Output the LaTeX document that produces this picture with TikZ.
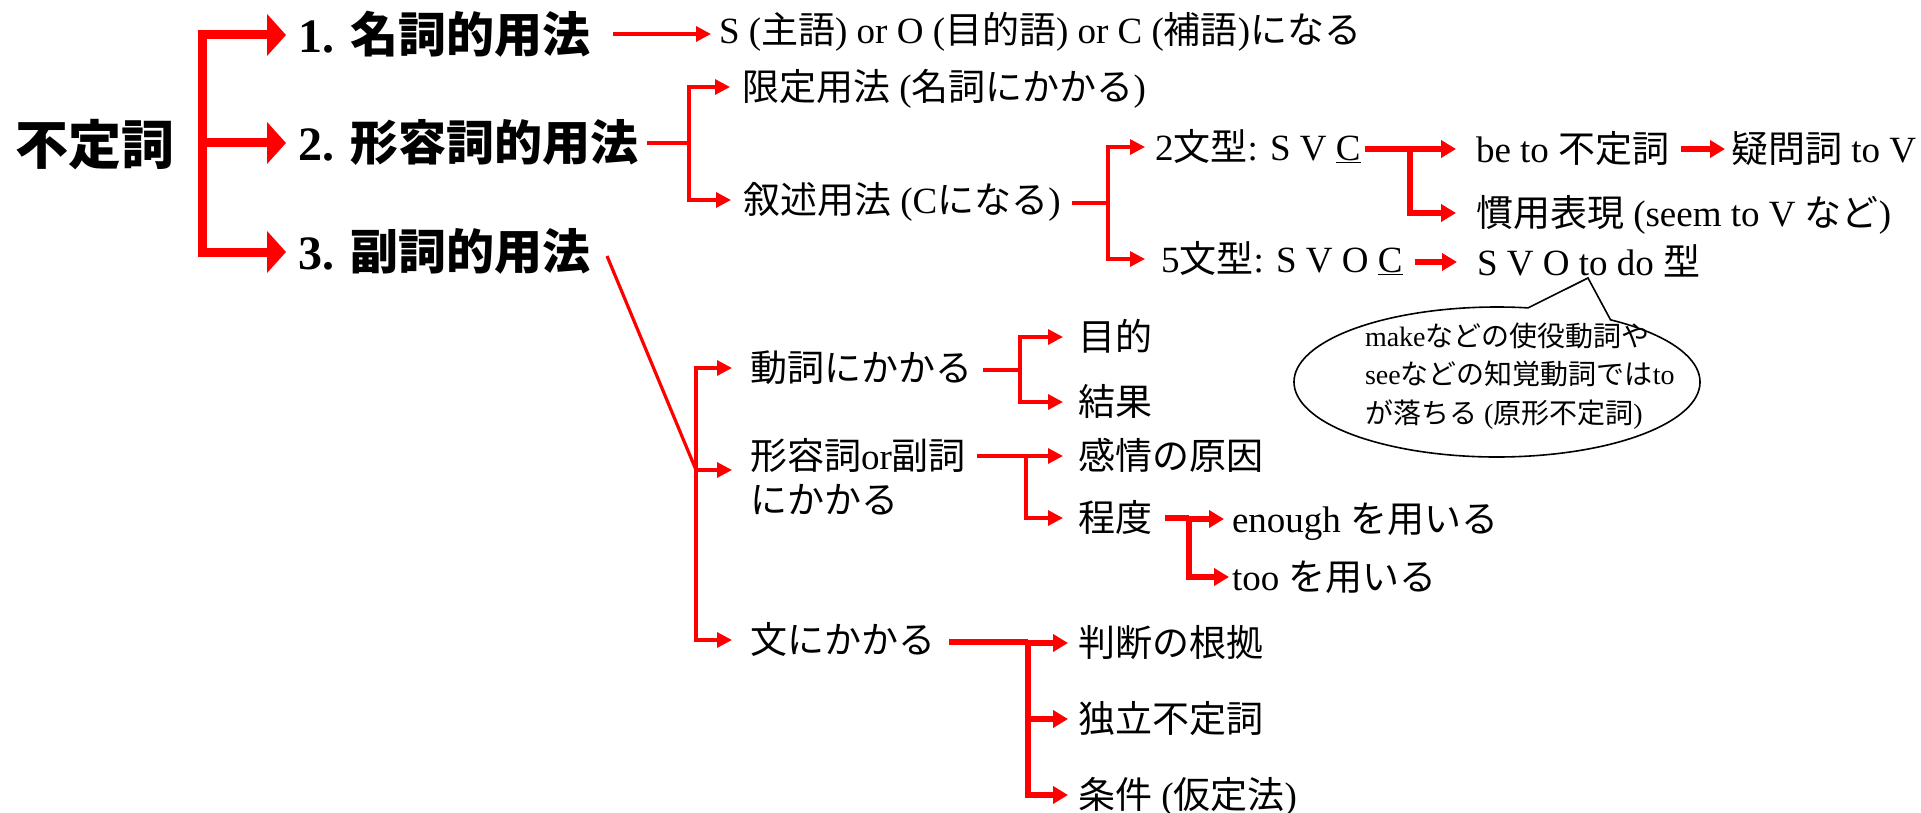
\documentclass[tikz,border=0pt]{standalone}
\usepackage{fontspec}
\setmainfont{Liberation Serif}
\newfontfamily\jp{Noto Sans CJK JP}
\newcommand\JP[1]{{\jp #1}}
\usetikzlibrary{arrows.meta,calc}
\definecolor{lred}{RGB}{255,0,0}
\begin{document}
\begin{tikzpicture}[x=1pt,y=-1pt]
\tikzset{
 tb/.style={inner sep=0pt, outer sep=0pt, anchor=west},
 txt/.style={tb, font=\fontsize{37}{44}\selectfont, text height=27.4pt, text depth=0pt},
 head/.style={tb, font=\fontsize{48}{56}\selectfont\bfseries, text height=35.5pt, text depth=0pt},
 toptxt/.style={tb, font=\fontsize{53}{60}\selectfont\bfseries, text height=39.2pt, text depth=0pt},
 ln/.style={draw=lred, line width=3.2pt},
 lnar/.style={ln, -{Triangle[length=15pt,width=15pt]}},
 md/.style={draw=lred, line width=5.5pt},
 mdar/.style={md, -{Triangle[length=15pt,width=17pt]}},
 mn/.style={draw=lred, line width=9pt},
 mnar/.style={mn, -{Triangle[length=19pt,width=41pt]}},
 spine/.style={line cap=rect},
}
\fill[white] (0,0) rectangle (1921,813);
\useasboundingbox (0,0) rectangle (1921,813);

% level 0 and 1
\node[toptxt] (fut) at (15,145) {\JP{不定詞}};
\node[head] (n1) at (298,35) {1. \JP{名詞的用法}};
\node[head] (n2) at (298,143) {2. \JP{形容詞的用法}};
\node[head] (n3) at (298,252) {3. \JP{副詞的用法}};
\coordinate (mb) at (202,143);
\draw[mn,spine] (mb |- n1) -- (mb |- n3);
\foreach \n in {n1,n2,n3} \draw[mnar,shorten >=12pt] (mb |- \n) -- (\n.west);

% 1. noun use
\node[txt] (s1) at (719,30) {S (\JP{主語}) or O (\JP{目的語}) or C (\JP{補語})\JP{になる}};
\draw[lnar] ($(n1.east)+(23,-1)$) -- ($(s1.west)+(-8,4)$);

% 2. adjective use
\node[txt] (gen) at (742,87) {\JP{限定用法} (\JP{名詞にかかる})};
\node[txt] (jyo) at (743,200) {\JP{叙述用法} (C\JP{になる})};
\coordinate (b2) at (689,143);
\draw[ln] ($(n2.east)+(9,0)$) -- (b2);
\draw[ln,spine] (b2 |- gen) -- (b2 |- jyo);
\draw[lnar,shorten >=12pt] (b2 |- gen) -- (gen.west);
\draw[lnar,shorten >=12pt] (b2 |- jyo) -- (jyo.west);

\node[txt] (k2) at (1155,147) {2\JP{文型}: S V \underline{C}};
\node[txt] (k5) at (1161,259) {5\JP{文型}: S V O \underline{C}};
\coordinate (b3) at (1108,203);
\draw[ln] ($(jyo.east)+(11,3)$) -- (b3);
\draw[ln,spine] (b3 |- k2) -- (b3 |- k5);
\draw[lnar,shorten >=10pt] (b3 |- k2) -- (k2.west);
\draw[lnar,shorten >=16pt] (b3 |- k5) -- (k5.west);

\node[txt] (beto) at (1476,149) {be to \JP{不定詞}};
\node[txt] (gim) at (1731,149) {\JP{疑問詞} to V};
\node[txt] (kan) at (1476,213) {\JP{慣用表現} (seem to V \JP{など})};
\node[txt] (svo) at (1477,262) {S V O to do \JP{型}};
\coordinate (b4) at (1410,149);
\draw[md] ($(k2.east)+(4,2)$) -- (b4);
\draw[md,spine] (b4 |- beto) -- (b4 |- kan);
\draw[mdar,shorten >=20pt] (b4 |- beto) -- (beto.west);
\draw[mdar,shorten >=20pt] (b4 |- kan) -- (kan.west);
\draw[mdar,shorten >=6pt] ($(beto.east)+(12,0)$) -- (gim.west);
\draw[mdar,shorten >=20pt] ($(k5.east)+(12,3)$) -- (svo.west);

% callout
\coordinate (ec) at (1497,382);
\coordinate (ptip) at (1588,278);
\draw[black,line width=1.6pt,fill=white] (ec) ++(-56:203 and 75)
  arc[start angle=-56,end angle=278.8,x radius=203,y radius=75] -- (ptip) -- cycle;
\node[tb,font=\fontsize{28}{38.5}\selectfont,align=left] (note) at (1365,376)
  {make\JP{などの使役動詞や}\\see\JP{などの知覚動詞では}to\\\JP{が落ちる} (\JP{原形不定詞})};

% 3. adverb use
\node[txt] (dou) at (750,368) {\JP{動詞にかかる}};
\node[tb,font=\fontsize{37}{44}\selectfont,align=left] (adj) at (750,477) {\JP{形容詞}or\JP{副詞}\\\JP{にかかる}};
\node[txt] (bun) at (750,640) {\JP{文にかかる}};
\coordinate (b5) at (696,470);
\draw[ln] ($(n3.east)+(17,4)$) -- (b5);
\draw[ln,spine] (b5 |- dou) -- (b5 |- bun);
\draw[lnar,shorten >=18pt] (b5 |- dou) -- (dou.west);
\draw[lnar,shorten >=18pt] (b5) -- (b5 -| adj.west);
\draw[lnar,shorten >=18pt] (b5 |- bun) -- (bun.west);

\node[txt] (mok) at (1078,337) {\JP{目的}};
\node[txt] (kek) at (1078,402) {\JP{結果}};
\coordinate (b6) at (1020,370);
\draw[ln] ($(dou.east)+(11,2)$) -- (b6);
\draw[ln,spine] (b6 |- mok) -- (b6 |- kek);
\draw[lnar,shorten >=15pt] (b6 |- mok) -- (mok.west);
\draw[lnar,shorten >=15pt] (b6 |- kek) -- (kek.west);

\node[txt] (kanj) at (1078,456) {\JP{感情の原因}};
\node[txt] (tei) at (1078,518) {\JP{程度}};
\coordinate (b7) at (1026,456);
\draw[lnar,shorten >=15pt] ($(adj.east |- kanj)+(11,0)$) -- (kanj.west);
\draw[ln,spine] (b7) -- (b7 |- tei);
\draw[lnar,shorten >=15pt] (b7 |- tei) -- (tei.west);

\node[txt] (eno) at (1232,519) {enough \JP{を用いる}};
\node[txt] (too) at (1232,577) {too \JP{を用いる}};
\coordinate (b8) at (1189,518);
\draw[md] ($(tei.east)+(13,0)$) -- (b8);
\draw[md,spine] (b8 |- eno) -- (b8 |- too);
\draw[mdar,shorten >=8pt] (b8 |- eno) -- (eno.west);
\draw[mdar,shorten >=3pt] (b8 |- too) -- (too.west);

\node[txt] (han) at (1078,643) {\JP{判断の根拠}};
\node[txt] (dok) at (1078,719) {\JP{独立不定詞}};
\node[txt] (jok) at (1078,795) {\JP{条件} (\JP{仮定法})};
\coordinate (b9) at (1028,642);
\draw[md] ($(bun.east)+(14,2)$) -- (b9);
\draw[md,spine] (b9 |- han) -- (b9 |- jok);
\draw[mdar,shorten >=10pt] (b9 |- han) -- (han.west);
\draw[mdar,shorten >=10pt] (b9 |- dok) -- (dok.west);
\draw[mdar,shorten >=10pt] (b9 |- jok) -- (jok.west);
\end{tikzpicture}
\end{document}
